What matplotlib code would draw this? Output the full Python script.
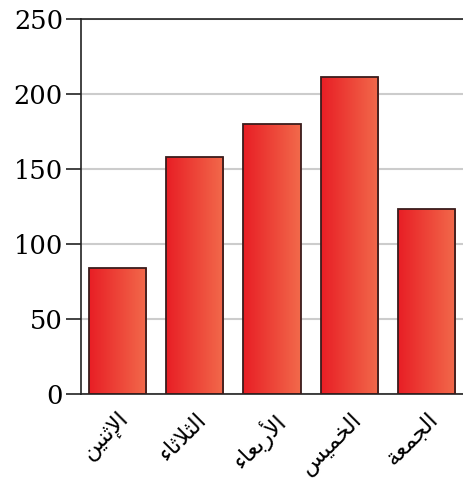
import numpy as np
import matplotlib
matplotlib.use("Agg")
import matplotlib.pyplot as plt
from matplotlib.colors import LinearSegmentedColormap

days = ["الإثنين", "الثلاثاء", "الأربعاء", "الخميس", "الجمعة"]
values = [84, 158, 180, 211, 123]
yticks = [0, 50, 100, 150, 200, 250]

# matplotlib has no Arabic shaping, so map letters to their joined forms
# (isolated, final, initial, medial)
FORMS = {
    "ء": ("\uFE80", None, None, None),
    "أ": ("\uFE83", "\uFE84", None, None),
    "إ": ("\uFE87", "\uFE88", None, None),
    "ا": ("\uFE8D", "\uFE8E", None, None),
    "ب": ("\uFE8F", "\uFE90", "\uFE91", "\uFE92"),
    "ة": ("\uFE93", "\uFE94", None, None),
    "ث": ("\uFE99", "\uFE9A", "\uFE9B", "\uFE9C"),
    "ج": ("\uFE9D", "\uFE9E", "\uFE9F", "\uFEA0"),
    "خ": ("\uFEA5", "\uFEA6", "\uFEA7", "\uFEA8"),
    "ر": ("\uFEAD", "\uFEAE", None, None),
    "س": ("\uFEB1", "\uFEB2", "\uFEB3", "\uFEB4"),
    "ع": ("\uFEC9", "\uFECA", "\uFECB", "\uFECC"),
    "ل": ("\uFEDD", "\uFEDE", "\uFEDF", "\uFEE0"),
    "م": ("\uFEE1", "\uFEE2", "\uFEE3", "\uFEE4"),
    "ن": ("\uFEE5", "\uFEE6", "\uFEE7", "\uFEE8"),
    "ي": ("\uFEF1", "\uFEF2", "\uFEF3", "\uFEF4"),
    "لا": ("\uFEFB", "\uFEFC", None, None),
    "لأ": ("\uFEF7", "\uFEF8", None, None),
    "لإ": ("\uFEF9", "\uFEFA", None, None),
}


def shape(word):
    tokens = []
    i = 0
    while i < len(word):
        if word[i:i + 2] in FORMS and len(word[i:i + 2]) == 2:
            tokens.append(word[i:i + 2])
            i += 2
        else:
            tokens.append(word[i])
            i += 1
    out = []
    for k, t in enumerate(tokens):
        f = FORMS[t]
        prev = k > 0 and FORMS[tokens[k - 1]][2] is not None and f[1] is not None
        nxt = k < len(tokens) - 1 and f[2] is not None and FORMS[tokens[k + 1]][1] is not None
        if prev and nxt:
            out.append(f[3])
        elif prev:
            out.append(f[1])
        elif nxt:
            out.append(f[2])
        else:
            out.append(f[0])
    return "".join(reversed(out))


fig = plt.figure(figsize=(4.64, 4.83), dpi=100)
ax = fig.add_axes([0.1746, 0.1843, 0.8254, 0.7764])

x = np.arange(len(days))
bars = ax.bar(x, values, width=0.74, color="none", edgecolor="#3a1c1c",
              linewidth=1.3, zorder=3)

cmap = LinearSegmentedColormap.from_list("g", ["#e81e25", "#f26a4b"])
grad = np.linspace(0, 1, 256).reshape(1, -1)
for b in bars:
    x0, y0 = b.get_x(), b.get_y()
    im = ax.imshow(grad, cmap=cmap, aspect="auto", zorder=2,
                   extent=[x0, x0 + b.get_width(), y0, y0 + b.get_height()])
    im.set_clip_path(b)

ax.set_xlim(-0.47, 4.48)
ax.set_ylim(0, 250)
ax.set_yticks(yticks)
ax.set_yticklabels([str(v) for v in yticks], fontsize=18.5, family="DejaVu Serif")
ax.tick_params(axis="y", length=11, width=1.2, color="#222222", pad=2)
ax.set_xticks(x)
ax.set_xticklabels([shape(d) for d in days], rotation=45, ha="right",
                   rotation_mode="anchor", fontsize=16.5, family="DejaVu Sans")
ax.tick_params(axis="x", length=0, pad=10)

ax.grid(axis="y", color="#cccccc", linewidth=1.5, zorder=0)
ax.set_axisbelow(True)
for s in ["left", "bottom", "top"]:
    ax.spines[s].set_color("#222222")
    ax.spines[s].set_linewidth(1.2)
ax.spines["right"].set_visible(False)

fig.savefig("out.png", dpi=100)
